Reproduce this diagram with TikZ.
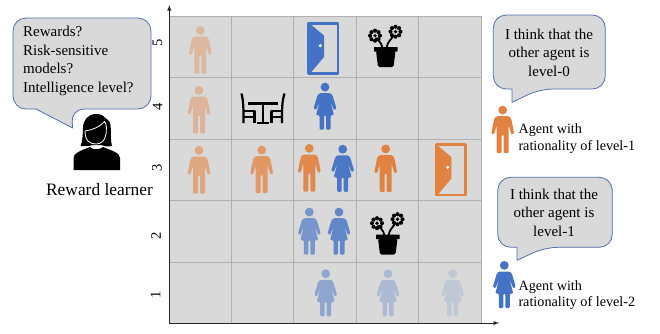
\documentclass[tikz,border=0pt]{standalone}
\usepackage{fontspec}
\setmainfont{Liberation Serif}
\definecolor{gridfill}{RGB}{217,217,217}
\definecolor{gridline}{RGB}{176,176,176}
\definecolor{bubbleline}{RGB}{80,112,170}
\definecolor{agentblue}{RGB}{68,114,196}
\definecolor{agentorange}{RGB}{226,130,64}
\tikzset{
  man/.pic={
    \fill[pic actions] (0,4.4) circle (4.4);
    \fill[pic actions,rounded corners=1.2] (-6.5,10.5)--(6.5,10.5)--(8.5,13)--(11.5,28)--(8.7,29)--(6,19.5)
      --(6,47.5)--(1,47.5)--(1,29)--(-1,29)--(-1,47.5)--(-6,47.5)--(-6,19.5)--(-8.7,29)--(-11.5,28)--(-8.5,13)--cycle;
  },
  woman/.pic={
    \fill[pic actions] (0,4.4) circle (4.4);
    \fill[pic actions,rounded corners=1.2] (-5.5,10.5)--(5.5,10.5)--(7.5,12.5)--(11.5,26)--(9,27.5)--(5,17.5)
      --(9,32.5)--(5.5,32.5)--(5.5,47)--(1,47)--(1,32.5)--(-1,32.5)--(-1,47)--(-5.5,47)--(-5.5,32.5)--(-9,32.5)
      --(-5,17.5)--(-9,27.5)--(-11.5,26)--(-7.5,12.5)--cycle;
  },
  door/.pic={
    \draw[pic actions,fill=none,line width=2.8] (1.4,1.4) rectangle (30.6,51.6);
    \fill[pic actions] (1,1)--(4,3.5)--(16.5,14)--(16.5,35)--(4,50)--(1,52)--cycle;
    \fill[white] (13,24) circle (1.7);
  },
  blossom/.pic={
    \foreach \a in {0,45,...,315} \fill[black] (\a:5) circle (2.05);
    \fill[black] (0,0) circle (1.8);
  },
  flowerpot/.pic={
    \draw[black,line width=1.8] (-1,24) .. controls (-2,19) and (-5,16) .. (-8,14);
    \draw[black,line width=1.8] (3,24) .. controls (4,17) and (8,16) .. (10,11);
    \pic at (-8.5,11.7) {blossom};
    \pic at (12,7.7) {blossom};
    \fill[black,rounded corners=0.5] (-9.5,23)--(14,23)--(14,27.5)--(-9.5,27.5)--cycle;
    \fill[black,rounded corners=1.5] (-7.5,27)--(12,27)--(10,43)--(-5.5,43)--cycle;
  },
  diningset/.pic={
    \draw[black,line width=2.2] (-21.5,0) .. controls (-19.5,8) and (-19.5,14) .. (-19.5,29.5);
    \draw[black,line width=2.2] (21.5,0) .. controls (19,8) and (19,14) .. (19,29.5);
    \draw[black,line width=2.2] (-19.5,17.5)--(-8.5,17.5)--(-8.5,29.5) (-19.5,23.5)--(-8.5,23.5);
    \draw[black,line width=2.2] (19,17.5)--(8.5,17.5)--(8.5,29.5) (19,23.5)--(8.5,23.5);
    \draw[black,line width=2.4] (-15,10)--(15,10) (0,10)--(0,29.5) (-6,29.5)--(6,29.5);
  },
  bubble/.style={draw=bubbleline,fill=gridfill,line width=0.8},
  bubbletext/.style={align=center,font=\fontsize{15}{18.6}\selectfont,inner sep=0},
  legendtext/.style={align=left,anchor=west,font=\fontsize{14.2}{16.6}\selectfont,inner sep=0},
  ticktext/.style={rotate=90,font=\fontsize{14.5}{14}\selectfont,inner sep=0},
}
\begin{document}
\begin{tikzpicture}[x=1pt,y=-1pt,line join=round]
  \useasboundingbox (0,0) rectangle (660,333);
  % grid world
  \fill[gridfill] (169,16) rectangle (481.5,323);
  \foreach \x in {231.5,293.7,356.7,418.7,481.5}
    \draw[gridline,line width=0.9] (\x,16)--(\x,323);
  \foreach \y in {16,77.7,139.3,200.3,262.3}
    \draw[gridline,line width=0.9] (169,\y)--(481.5,\y);
  % axes
  \coordinate (origin) at (169.3,323);
  \coordinate (ytop) at (169.3,5);
  \coordinate (xend) at (499,323);
  \draw[-latex,line width=0.9,black!85] (origin)--(ytop);
  \draw[-latex,line width=0.9,black!85] (origin)--(xend);
  \node[ticktext] (tick5) at (157.5,43) {5};
  \node[ticktext] (tick4) at (157.5,107) {4};
  \node[ticktext] (tick3) at (157,168) {3};
  \node[ticktext] (tick2) at (156,236) {2};
  \node[ticktext] (tick1) at (155.5,295) {1};
  % agents, faded along their paths
  \pic[fill=agentorange!38!gridfill] at (200.3,26) {man};
  \pic[fill=agentorange!42!gridfill] at (199,86) {man};
  \pic[fill=agentorange!58!gridfill] at (199,146) {man};
  \pic[fill=agentorange!75!gridfill] at (261.7,145.7) {man};
  \pic[fill=agentorange!92!gridfill] at (309.3,144) {man};
  \pic[fill=agentorange] at (385.7,144.5) {man};
  \pic[fill=agentblue] at (325,82.7) {woman};
  \pic[fill=agentblue!95!gridfill] at (342.7,144.8) {woman};
  \pic[fill=agentblue!65!gridfill] at (309.3,207.7) {woman};
  \pic[fill=agentblue!80!gridfill] at (339,207.7) {woman};
  \pic[fill=agentblue!50!gridfill] at (325.7,269.3) {woman};
  \pic[fill=agentblue!30!gridfill] at (388,269.3) {woman};
  \pic[fill=agentblue!17!gridfill] at (452.7,269.3) {woman};
  % objects
  \pic[draw=agentblue,fill=agentblue] at (307.3,21.7) {door};
  \pic[draw=agentorange,fill=agentorange] at (434.7,143.3) {door};
  \pic at (383.5,24) {flowerpot};
  \pic at (385.5,211.5) {flowerpot};
  \pic at (263,93.5) {diningset};
  % reward learner
  \fill[black] (96,114) .. controls (88,114) and (83,120) .. (83,128) .. controls (83,136) and (82,143) .. (80.5,146)
    .. controls (86,146.5) and (90,146) .. (93,145) -- (101,145) .. controls (104,146) and (108,147) .. (112,146)
    .. controls (110,140) and (111.5,131) .. (110.5,125) .. controls (110,120) and (106,119) .. (105.5,118) .. controls (103,115) and (100,114) .. (96,114) -- cycle;
  \draw[white,line width=0.8,fill=black] (85,131) .. controls (92,130) and (100,127) .. (104.5,121.5)
    .. controls (107,124) and (106.5,130) .. (106,134) .. controls (105,141) and (101,144) .. (96,144) .. controls (90,144) and (85,141) .. (85,131) -- cycle;
  \fill[black] (73.5,170) -- (73.5,158) .. controls (73.5,153) and (80,151) .. (90,147) .. controls (92,150) and (100,150) .. (103,147) .. controls (113,151) and (120,153) .. (120,158) -- (120,170) -- cycle;
  \node[font=\fontsize{17.4}{19}\selectfont,inner sep=0] (learnerlabel) at (99.5,190) {Reward learner};
  % speech bubbles
  \draw[bubble,rounded corners=13] (13,18)--(151,18)--(151,109)--(71,109)[sharp corners]--(72.7,128)--(36,109)[rounded corners=13]--(13,109)--cycle;
  \node[bubbletext,align=left,anchor=north west] (learnerask) at (23,26) {Rewards?\\Risk-sensitive\\models?\\Intelligence level?};
  \draw[bubble,rounded corners=13] (493.3,15)--(605.3,15)--(605.3,89)--(540,89)[sharp corners]--(512,102.3)--(512,89)[rounded corners=13]--(493.3,89)--cycle;
  \node[bubbletext] (thinkzero) at (549,52.5) {I think that the\\other agent is\\level-0};
  \draw[bubble,rounded corners=13] (497.7,177.3)--(612.3,177.3)--(612.3,247.3)--(545,247.3)[sharp corners]--(517,260.3)--(517,247.3)[rounded corners=13]--(497.7,247.3)--cycle;
  \node[bubbletext] (thinkone) at (554,212.5) {I think that the\\other agent is\\level-1};
  % legend
  \pic[fill=agentorange] at (502.7,105.7) {man};
  \pic[fill=agentblue] at (504.3,261) {woman};
  \node[legendtext] (levelone) at (518.3,138.5) {Agent with\\rationality of level-1};
  \node[legendtext] (leveltwo) at (518.3,295) {Agent with\\rationality of level-2};
\end{tikzpicture}
\end{document}
